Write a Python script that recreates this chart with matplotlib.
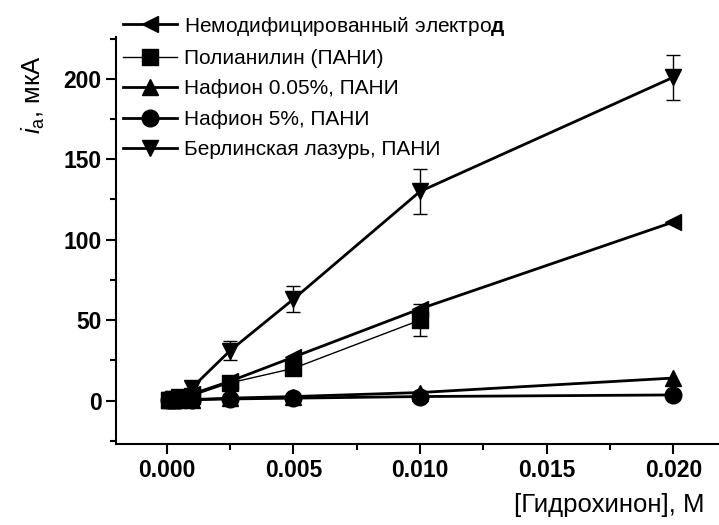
import matplotlib
matplotlib.use("Agg")
import matplotlib.pyplot as plt
from matplotlib.ticker import MultipleLocator, FormatStrFormatter

plt.rcParams['font.family'] = ['Liberation Sans', 'DejaVu Sans']
plt.rcParams['mathtext.fontset'] = 'custom'
plt.rcParams['mathtext.rm'] = 'Liberation Sans'
plt.rcParams['mathtext.it'] = 'Liberation Sans:italic'
plt.rcParams['mathtext.bf'] = 'Liberation Sans:bold'

# data
x_full = [0.0001, 0.00025, 0.0005, 0.001, 0.0025, 0.005, 0.01, 0.02]
x_pani = [0.0001, 0.00025, 0.0005, 0.001, 0.0025, 0.005, 0.01]

y_unmod = [0.3, 0.7, 1.5, 4, 12, 27, 57, 111]
y_pani = [0.3, 0.7, 1.5, 3, 11, 20, 50]
e_pani = [0.3, 0.3, 0.5, 1, 1.5, 2.5, 10]
y_naf005 = [0.1, 0.2, 0.4, 0.6, 1.5, 2.5, 5, 14]
y_naf5 = [0.1, 0.2, 0.3, 0.5, 1, 1.5, 2.5, 3.5]
y_berlin = [0.5, 1, 2, 8, 31, 63, 130, 201]
e_berlin = [0.5, 0.5, 1, 4, 6, 8, 14, 14]

labels = [r"Немодифицированный электро$\mathbf{д}$",
          "Полианилин (ПАНИ)",
          "Нафион 0.05%, ПАНИ",
          "Нафион 5%, ПАНИ",
          "Берлинская лазурь, ПАНИ"]

fig = plt.figure(figsize=(7.19, 5.25), dpi=100)
ax = fig.add_axes([116/719, 1-444/525, 1-116/719, (444-37)/525])

ms = 12
h1, = ax.plot(x_full, y_unmod, color='black', lw=2, marker='<', ms=ms, label=labels[0], zorder=3)
ax.errorbar(x_pani, y_pani, yerr=e_pani, fmt='none', ecolor='black', elinewidth=1, capsize=5, zorder=2)
h2, = ax.plot(x_pani, y_pani, color='black', lw=1, marker='s', ms=ms-1, label=labels[1], zorder=3)
h3, = ax.plot(x_full, y_naf005, color='black', lw=2, marker='^', ms=ms, label=labels[2], zorder=3)
h4, = ax.plot(x_full, y_naf5, color='black', lw=2, marker='o', ms=ms, label=labels[3], zorder=3)
ax.errorbar(x_full, y_berlin, yerr=e_berlin, fmt='none', ecolor='black', elinewidth=1, capsize=5, zorder=2)
h5, = ax.plot(x_full, y_berlin, color='black', lw=2, marker='v', ms=ms, label=labels[4], zorder=3)

ax.set_xlim(-0.002, 0.0218)
ax.set_ylim(-27, 226)

for s in ['top', 'right']:
    ax.spines[s].set_visible(False)
for s in ['left', 'bottom']:
    ax.spines[s].set_linewidth(1.5)

ax.xaxis.set_major_locator(MultipleLocator(0.005))
ax.xaxis.set_minor_locator(MultipleLocator(0.0025))
ax.xaxis.set_major_formatter(FormatStrFormatter('%.3f'))
ax.yaxis.set_major_locator(MultipleLocator(50))
ax.yaxis.set_minor_locator(MultipleLocator(25))
ax.tick_params(which='major', direction='out', length=7, width=1.5, labelsize=16.5)
ax.tick_params(which='minor', direction='out', length=4, width=1.5)
for lab in ax.get_xticklabels() + ax.get_yticklabels():
    lab.set_fontweight('bold')

fig.text(705/719, 1-505/525, "[Гидрохинон], М", ha='right', va='center', fontsize=18.5)
fig.text(33/719, 1-95/525, r"$\mathit{i}_\mathrm{a}$, мкА", rotation=90, ha='center', va='center', fontsize=18.5)

fig.legend(handles=[h1, h2, h3, h4, h5], loc='upper left',
           bbox_to_anchor=(108/719, 1-0/525), frameon=False, fontsize=15,
           handlelength=2.6, handletextpad=0.35, labelspacing=0.55, borderpad=0.2,
           markerscale=1.0)

fig.savefig("out.png", dpi=100)
